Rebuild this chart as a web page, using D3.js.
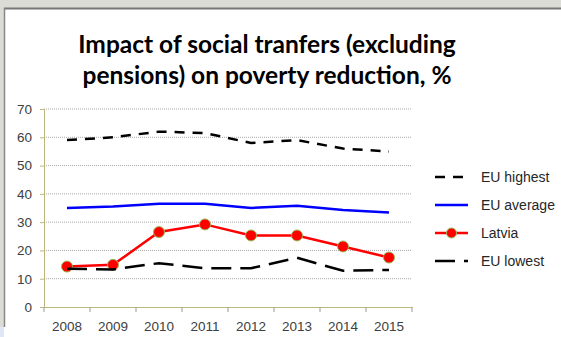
<!DOCTYPE html>
<html>
<head>
<meta charset="utf-8">
<script src="https://cdn.jsdelivr.net/npm/d3@7"></script>
<style>
  body { margin: 0; background: #dcdcd6; }
  svg { display: block; }
</style>
</head>
<body>
<div id="chart"></div>
<script>
let w = 561;
let h = 337;

let years = ["2008", "2009", "2010", "2011", "2012", "2013", "2014", "2015"];
let euHighest = [59, 60, 62, 61.5, 58, 59, 56, 55];
let euAverage = [35, 35.5, 36.5, 36.5, 35, 35.8, 34.3, 33.4];
let latvia = [14.3, 14.9, 26.5, 29.2, 25.3, 25.3, 21.4, 17.5];
let euLowest = [13.5, 13.3, 15.5, 13.7, 13.7, 17.4, 12.8, 13.1];
let yTicks = [0, 10, 20, 30, 40, 50, 60, 70];

let series = [
  { name: "EU highest", values: euHighest, color: "#000", dash: "10,8", marker: false },
  { name: "EU average", values: euAverage, color: "#0000ff", dash: null, marker: false },
  { name: "Latvia", values: latvia, color: "#ff0000", dash: null, marker: true },
  { name: "EU lowest", values: euLowest, color: "#000", dash: "20,9", marker: false }
];

let svg = d3.select("#chart").append("svg")
  .attr("width", w)
  .attr("height", h);

// frame like a slide screenshot
svg.append("rect").attr("x", 0).attr("y", 0).attr("width", w).attr("height", h).attr("fill", "#dcdcd6");
svg.append("rect").attr("x", 4).attr("y", 8).attr("width", w).attr("height", h).attr("fill", "#fff");
svg.append("line").attr("x1", 4).attr("x2", w).attr("y1", 8.5).attr("y2", 8.5).attr("stroke", "#777").attr("stroke-width", 2);
svg.append("line").attr("x1", 4.5).attr("x2", 4.5).attr("y1", 8).attr("y2", 327).attr("stroke", "#888").attr("stroke-width", 1.5);
svg.append("rect").attr("x", 0).attr("y", 327).attr("width", 4).attr("height", 10).attr("fill", "#dde8f4");

// title
let title = svg.append("text")
  .attr("text-anchor", "middle")
  .attr("font-family", "Lato, 'Open Sans', sans-serif")
  .attr("font-weight", "bold")
  .attr("font-size", 24.5)
  .attr("fill", "#000");
title.append("tspan").attr("x", 267).attr("y", 53).text("Impact of social tranfers (excluding");
title.append("tspan").attr("x", 267).attr("y", 84).text("pensions) on poverty reduction, %");

let x = d3.scaleBand().domain(years).range([44, 412]);
let y = d3.scaleLinear().domain([0, 70]).range([307, 109]);

// grid
svg.append("g").selectAll("line").data(yTicks.filter(d => d > 0)).enter()
  .append("line")
  .attr("x1", 44).attr("x2", 412)
  .attr("y1", d => y(d)).attr("y2", d => y(d))
  .attr("stroke", "#aaa")
  .attr("stroke-width", 1)
  .attr("stroke-dasharray", "1,1");

// y axis
let yAxis = svg.append("g")
  .attr("transform", "translate(44,0)")
  .call(d3.axisLeft(y).tickValues(yTicks).tickSize(4).tickPadding(8));
yAxis.select(".domain").attr("stroke", "#bdb77a");
yAxis.selectAll(".tick line").attr("stroke", "#bdb77a");
yAxis.selectAll("text")
  .attr("font-family", "Liberation Sans, Arial, sans-serif")
  .attr("font-size", 13.5)
  .attr("fill", "#404040");

// x axis
let xAxis = svg.append("g")
  .attr("transform", "translate(0,307)")
  .call(d3.axisBottom(x).tickSize(0).tickPadding(14));
xAxis.select(".domain").attr("stroke", "#bdb77a");
xAxis.selectAll("text")
  .attr("font-family", "Liberation Sans, Arial, sans-serif")
  .attr("font-size", 13.5)
  .attr("fill", "#404040");
// tick marks between categories
svg.append("g").selectAll("line").data(years.concat(["end"])).enter()
  .append("line")
  .attr("x1", (d, i) => 44 + i * x.bandwidth())
  .attr("x2", (d, i) => 44 + i * x.bandwidth())
  .attr("y1", 307).attr("y2", 312)
  .attr("stroke", "#999");

// lines
let line = d3.line()
  .x((d, i) => x(years[i]) + x.bandwidth() / 2)
  .y(d => y(d));

series.forEach(s => {
  svg.append("path")
    .datum(s.values)
    .attr("d", line)
    .attr("fill", "none")
    .attr("stroke", s.color)
    .attr("stroke-width", 2.5)
    .attr("stroke-dasharray", s.dash);
  if (s.marker) {
    svg.append("g").selectAll("circle").data(s.values).enter()
      .append("circle")
      .attr("cx", (d, i) => x(years[i]) + x.bandwidth() / 2)
      .attr("cy", d => y(d))
      .attr("r", 5.5)
      .attr("fill", "#ff0000")
      .attr("stroke", "#9bbb59")
      .attr("stroke-width", 1);
  }
});

// legend
let legend = svg.append("g").selectAll("g").data(series).enter()
  .append("g")
  .attr("transform", (d, i) => "translate(435," + (177 + i * 28) + ")");
legend.append("line")
  .attr("x1", 0).attr("x2", 33)
  .attr("stroke", d => d.color)
  .attr("stroke-width", 2.5)
  .attr("stroke-dasharray", d => d.dash);
legend.filter(d => d.marker).append("circle")
  .attr("cx", 16.5).attr("r", 5)
  .attr("fill", "#ff0000")
  .attr("stroke", "#9bbb59");
legend.append("text")
  .attr("x", 46)
  .attr("dy", "0.35em")
  .attr("font-family", "Liberation Sans, Arial, sans-serif")
  .attr("font-size", 14)
  .attr("fill", "#262626")
  .text(d => d.name);
</script>
</body>
</html>
